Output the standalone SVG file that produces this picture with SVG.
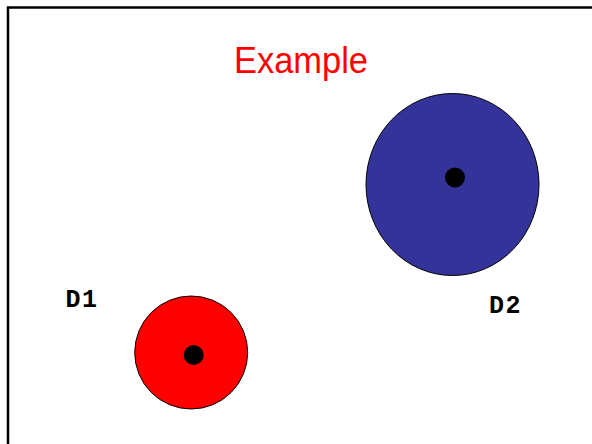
<svg xmlns="http://www.w3.org/2000/svg" width="592" height="444" viewBox="0 0 592 444">
<style>
.disk{stroke:#000;stroke-width:1}
.dot{fill:#000}
.lbl{font-family:"Liberation Mono","Courier New",monospace;font-weight:bold;font-size:25px;letter-spacing:1.5px;fill:#000}
.title{font-family:"Comic Sans MS","Liberation Sans",sans-serif;font-size:36px;fill:#ff0000}
</style>
<rect x="0" y="0" width="592" height="444" fill="#fff"/>
<rect x="8" y="7.5" width="600" height="460" fill="none" stroke="#000" stroke-width="2.5"/>
<text class="title" x="234" y="73" textLength="134" lengthAdjust="spacingAndGlyphs">Example</text>
<g id="D2">
<ellipse class="disk" cx="452.5" cy="184.5" rx="86.5" ry="91" fill="#333399"/>
<circle class="dot" cx="455" cy="177.5" r="10"/>
<text class="lbl" x="489" y="312.5">D2</text>
</g>
<g id="D1">
<circle class="disk" cx="191.2" cy="352.5" r="56.5" fill="#ff0000"/>
<circle class="dot" cx="193.7" cy="355" r="10"/>
<text class="lbl" x="65.5" y="306.5">D1</text>
</g>
<g id="connectors"/>
</svg>
